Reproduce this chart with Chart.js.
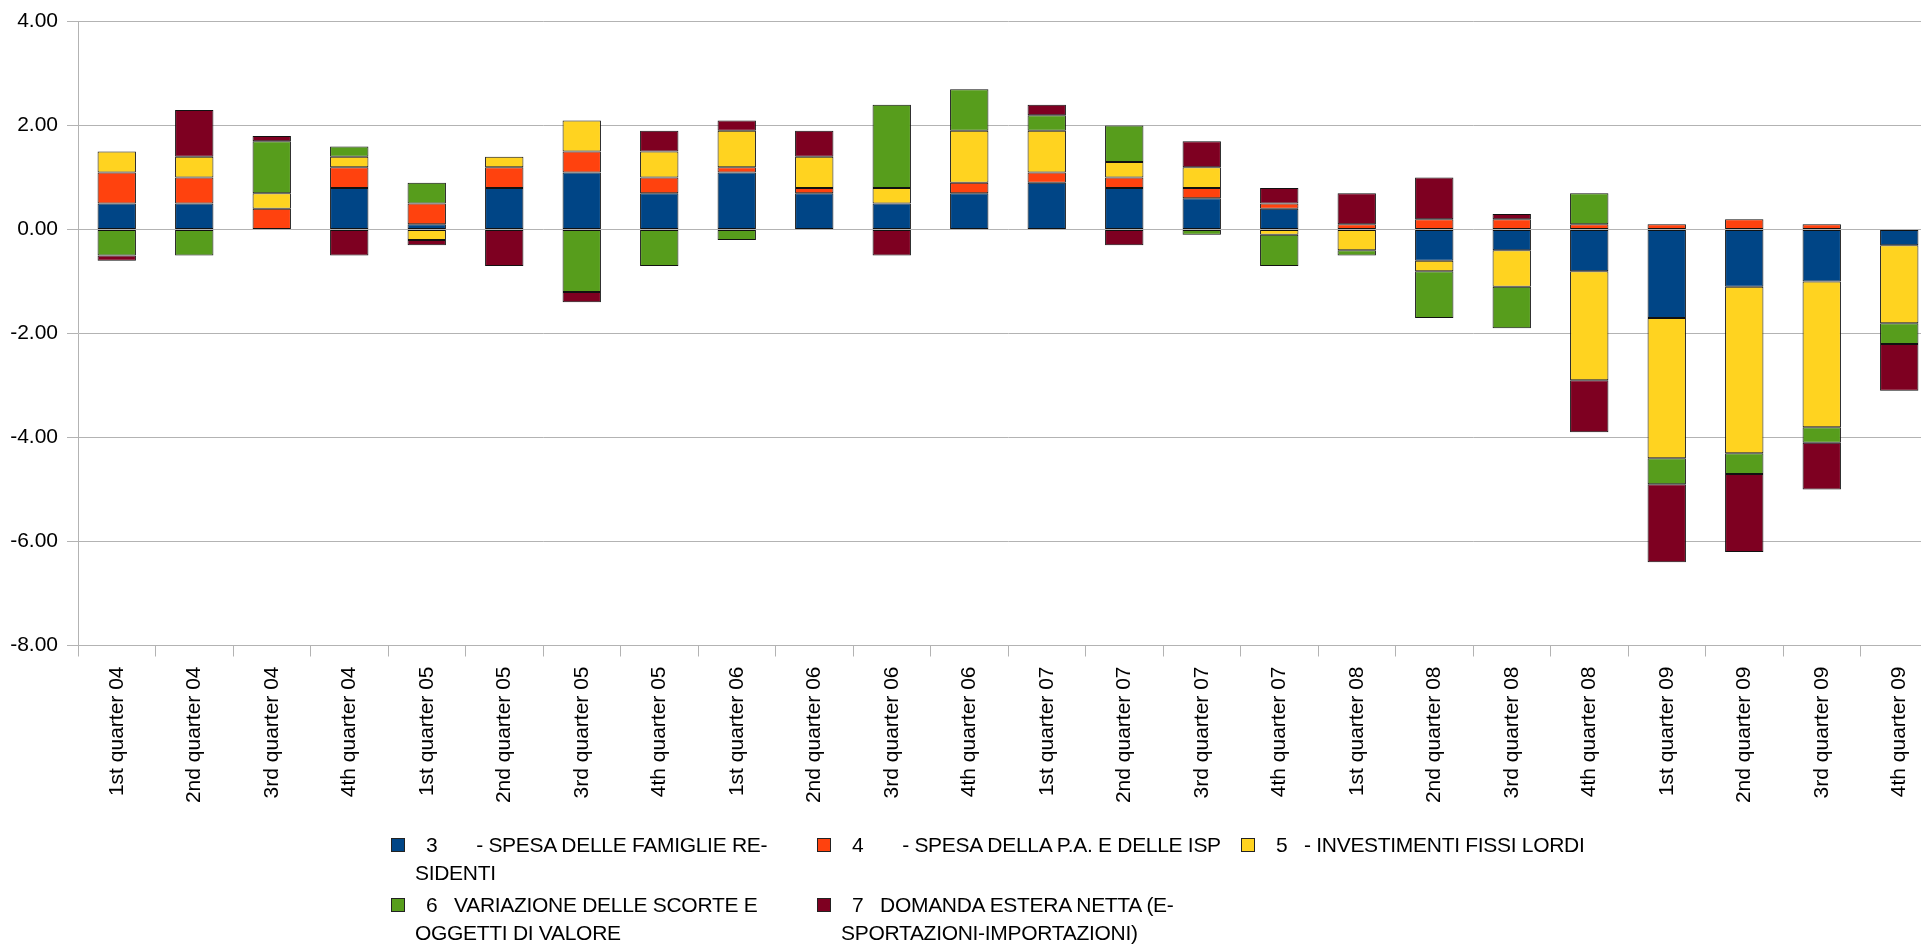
<!DOCTYPE html>
<html>
<head>
<meta charset="utf-8">
<title>Contributi alla crescita del PIL</title>
<script src="https://cdn.jsdelivr.net/npm/chart.js@4.4.0/dist/chart.umd.min.js"></script>
<style>
    html, body { margin: 0; padding: 0; background: #ffffff; overflow: hidden; }
    #wrap { position: relative; width: 1921px; height: 945px; overflow: hidden; }
    #canvasbar { position: absolute; left: 0; top: 0; }
    .legend_text {
        position: absolute;
        font-family: "Liberation Sans", Arial, sans-serif;
        font-size: 21px;
        letter-spacing: -0.3px;
        line-height: 28px;
        color: #000000;
        white-space: pre;
    }
    .legend_box {
        position: absolute;
        width: 14px;
        height: 14px;
        box-sizing: border-box;
        border: 1px solid #222222;
    }
</style>
</head>
<body>
<div id="wrap">
    <canvas id="canvasbar" width="1938" height="945"></canvas>
    <div id="legend"></div>
</div>
<script>
// categories (x axis)
var quarters = [
    '1st quarter 04', '2nd quarter 04', '3rd quarter 04', '4th quarter 04',
    '1st quarter 05', '2nd quarter 05', '3rd quarter 05', '4th quarter 05',
    '1st quarter 06', '2nd quarter 06', '3rd quarter 06', '4th quarter 06',
    '1st quarter 07', '2nd quarter 07', '3rd quarter 07', '4th quarter 07',
    '1st quarter 08', '2nd quarter 08', '3rd quarter 08', '4th quarter 08',
    '1st quarter 09', '2nd quarter 09', '3rd quarter 09', '4th quarter 09'
];

// series values
var spesaFamiglie = [0.5, 0.5, 0.0, 0.8, 0.1, 0.8, 1.1, 0.7, 1.1, 0.7, 0.5, 0.7,
                     0.9, 0.8, 0.6, 0.4, 0.0, -0.6, -0.4, -0.8, -1.7, -1.1, -1.0, -0.3];
var spesaPA = [0.6, 0.5, 0.4, 0.4, 0.4, 0.4, 0.4, 0.3, 0.1, 0.1, 0.0, 0.2,
               0.2, 0.2, 0.2, 0.1, 0.1, 0.2, 0.2, 0.1, 0.1, 0.2, 0.1, 0.0];
var investimenti = [0.4, 0.4, 0.3, 0.2, -0.2, 0.2, 0.6, 0.5, 0.7, 0.6, 0.3, 1.0,
                    0.8, 0.3, 0.4, -0.1, -0.4, -0.2, -0.7, -2.1, -2.7, -3.2, -2.8, -1.5];
var scorte = [-0.5, -0.5, 1.0, 0.2, 0.4, 0.0, -1.2, -0.7, -0.2, 0.0, 1.6, 0.8,
              0.3, 0.7, -0.1, -0.6, -0.1, -0.9, -0.8, 0.6, -0.5, -0.4, -0.3, -0.4];
var domandaEstera = [-0.1, 0.9, 0.1, -0.5, -0.1, -0.7, -0.2, 0.4, 0.2, 0.5, -0.5, 0.0,
                     0.2, -0.3, 0.5, 0.3, 0.6, 0.8, 0.1, -1.0, -1.5, -1.5, -0.9, -0.9];

// series names, split on the same lines as the legend
var seriesNames = [
    ['  3       - SPESA DELLE FAMIGLIE RE-', 'SIDENTI'],
    ['  4       - SPESA DELLA P.A. E DELLE ISP'],
    ['  5   - INVESTIMENTI FISSI LORDI'],
    ['  6   VARIAZIONE DELLE SCORTE E', 'OGGETTI DI VALORE'],
    ['  7   DOMANDA ESTERA NETTA (E-', 'SPORTAZIONI-IMPORTAZIONI)']
];
var seriesColors = ['#004586', '#ff420e', '#ffd320', '#579d1c', '#7e0021'];

// y axis
var yMin = -8;
var yMax = 4;
var yStep = 2;

var seriesValues = [spesaFamiglie, spesaPA, investimenti, scorte, domandaEstera];

var datasets = seriesValues.map(function(values, i) {
    return {
        label: seriesNames[i].join(' '),
        data: values,
        backgroundColor: seriesColors[i],
        borderColor: '#111111',
        borderWidth: 1,
        borderSkipped: false,
        categoryPercentage: 1.0,
        barPercentage: 0.495
    };
});

Chart.defaults.font.family = '"Liberation Sans", Arial, sans-serif';
Chart.defaults.font.size = 21;
Chart.defaults.color = '#000000';

var ctx = document.getElementById('canvasbar');
new Chart(ctx, {
    type: 'bar',
    data: {
        labels: quarters,
        datasets: datasets
    },
    options: {
        responsive: false,
        animation: false,
        devicePixelRatio: 1,
        layout: {
            padding: { top: 21, left: 0, right: 0, bottom: 0 }
        },
        plugins: {
            legend: { display: false },
            tooltip: { enabled: false }
        },
        scales: {
            x: {
                stacked: true,
                offset: true,
                grid: {
                    offset: true,
                    drawOnChartArea: false,
                    drawTicks: true,
                    tickLength: 11,
                    color: '#b3b3b3'
                },
                border: { color: '#b3b3b3', width: 1 },
                ticks: {
                    minRotation: 90,
                    maxRotation: 90,
                    autoSkip: false,
                    padding: 10,
                    color: '#000000'
                },
                afterFit: function(scale) {
                    scale.height = 299.5;
                }
            },
            y: {
                stacked: true,
                min: yMin,
                max: yMax,
                grid: {
                    color: '#b3b3b3',
                    drawTicks: true,
                    tickLength: 11
                },
                border: { color: '#b3b3b3', width: 1 },
                ticks: {
                    stepSize: yStep,
                    padding: 9,
                    color: '#000000',
                    callback: function(value) {
                        return value.toFixed(2);
                    }
                },
                afterFit: function(scale) {
                    scale.width = 78;
                }
            }
        }
    }
});

// legend laid out like the original: three columns, two rows
var legendSlots = [
    { left: 391, top: 831 },
    { left: 817, top: 831 },
    { left: 1241, top: 831 },
    { left: 391, top: 891 },
    { left: 817, top: 891 }
];
var $legend = document.getElementById('legend');
seriesNames.forEach(function(lines, i) {
    var slot = legendSlots[i];
    var box = document.createElement('div');
    box.className = 'legend_box';
    box.style.left = slot.left + 'px';
    box.style.top = (slot.top + 7) + 'px';
    box.style.background = seriesColors[i];
    $legend.appendChild(box);
    var text = document.createElement('div');
    text.className = 'legend_text';
    text.style.left = (slot.left + 24) + 'px';
    text.style.top = slot.top + 'px';
    text.textContent = lines.join('\n');
    $legend.appendChild(text);
});
</script>
</body>
</html>
